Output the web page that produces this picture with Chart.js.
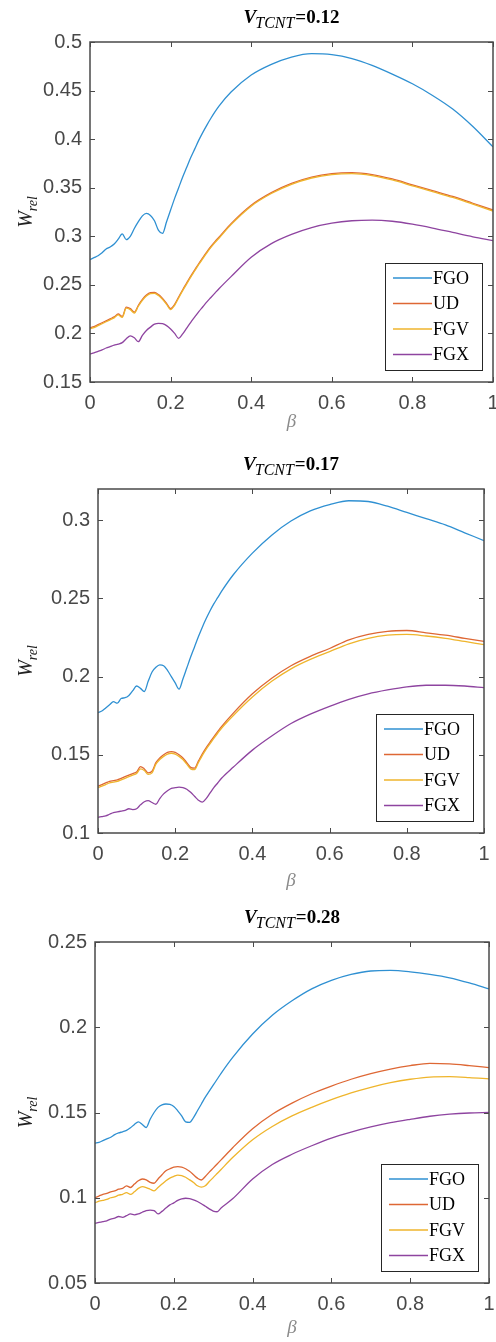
<!DOCTYPE html>
<html>
<head>
<meta charset="utf-8">
<script src="https://cdn.jsdelivr.net/npm/chart.js@4"></script>
<style>
body { margin: 0; background: #fff; width: 496px; height: 1342px; position: relative; overflow: hidden; }
.panel { position: absolute; left: 0; width: 496px; }
</style>
</head>
<body>
<div class="panel" style="top:0;height:440px"><canvas id="c12" width="496" height="440"></canvas></div>
<div class="panel" style="top:440px;height:455px"><canvas id="c17" width="496" height="455"></canvas></div>
<div class="panel" style="top:895px;height:447px"><canvas id="c28" width="496" height="447"></canvas></div>
<script>
var seriesNames = ["FGO", "UD", "FGV", "FGX"];
var lineColors = ["#2f90d2", "#de6734", "#efb52c", "#8e44a0"];

var beta = [0, 0.01, 0.02, 0.03, 0.04, 0.05, 0.06, 0.07, 0.08, 0.09,
            0.1, 0.11, 0.12, 0.13, 0.14, 0.15, 0.16, 0.17, 0.18, 0.19,
            0.2, 0.21, 0.22, 0.23, 0.24, 0.25, 0.26, 0.27, 0.28, 0.29,
            0.3, 0.31, 0.32,
            0.35, 0.4, 0.45, 0.5, 0.55, 0.6, 0.65, 0.7, 0.75, 0.8, 0.85, 0.9, 0.95, 1];
var xTicks = [0, 0.2, 0.4, 0.6, 0.8, 1];

// V_TCNT = 0.12
var fgo12 = [0.276, 0.278, 0.280, 0.283, 0.287, 0.289, 0.292, 0.297, 0.3025, 0.2965,
             0.300, 0.308, 0.315, 0.321, 0.3235, 0.3215, 0.316, 0.306, 0.303, 0.315,
             0.327, 0.339, 0.350, 0.361, 0.371, 0.381, 0.390, 0.399, 0.407, 0.4145,
             0.4215, 0.428, 0.434,
             0.4485, 0.466, 0.477, 0.4845, 0.488, 0.487, 0.483, 0.476, 0.467, 0.457, 0.445, 0.431, 0.413, 0.392];
var ud12 = [0.206, 0.207, 0.209, 0.211, 0.213, 0.215, 0.217, 0.220, 0.2175, 0.227,
            0.2255, 0.222, 0.229, 0.235, 0.2395, 0.242, 0.2423, 0.240, 0.236, 0.231,
            0.2255, 0.230, 0.2375, 0.245, 0.252, 0.259, 0.2655, 0.272, 0.278, 0.284,
            0.2895, 0.2945, 0.299,
            0.313, 0.332, 0.345, 0.3545, 0.361, 0.3645, 0.3655, 0.3635, 0.359, 0.353, 0.347, 0.341, 0.334, 0.327];
var fgv12 = [0.205, 0.206, 0.208, 0.210, 0.212, 0.214, 0.216, 0.219, 0.2165, 0.226,
             0.2245, 0.221, 0.228, 0.234, 0.2385, 0.241, 0.2413, 0.239, 0.235, 0.230,
             0.2245, 0.229, 0.2365, 0.244, 0.251, 0.258, 0.2645, 0.271, 0.277, 0.283,
             0.2885, 0.2935, 0.298,
             0.312, 0.331, 0.344, 0.3535, 0.360, 0.3635, 0.3645, 0.3625, 0.358, 0.352, 0.346, 0.340, 0.333, 0.326];
var fgx12 = [0.179, 0.180, 0.1815, 0.183, 0.185, 0.1865, 0.188, 0.189, 0.1905, 0.1945,
             0.1975, 0.1955, 0.1915, 0.198, 0.203, 0.2065, 0.2095, 0.2104, 0.210, 0.208,
             0.2045, 0.200, 0.195, 0.1995, 0.2055, 0.2115, 0.217, 0.2225, 0.2275, 0.2325,
             0.237, 0.2415, 0.246,
             0.2585, 0.2785, 0.2925, 0.302, 0.309, 0.3135, 0.316, 0.3167, 0.3155, 0.3125, 0.3085, 0.304, 0.2995, 0.2955];
var yTicks12 = [0.15, 0.2, 0.25, 0.3, 0.35, 0.4, 0.45, 0.5];

// V_TCNT = 0.17
var fgo17 = [0.177, 0.178, 0.180, 0.182, 0.184, 0.183, 0.186, 0.1865, 0.188, 0.191,
             0.194, 0.1925, 0.1905, 0.197, 0.203, 0.206, 0.2075, 0.207, 0.204, 0.200,
             0.196, 0.192, 0.1985, 0.2055, 0.2125, 0.219, 0.2255, 0.2315, 0.237, 0.242,
             0.2465, 0.2505, 0.2545,
             0.265, 0.279, 0.2905, 0.2995, 0.306, 0.310, 0.3125, 0.312, 0.309, 0.305, 0.301, 0.297, 0.292, 0.287];
var ud17 = [0.130, 0.131, 0.132, 0.133, 0.1335, 0.134, 0.135, 0.136, 0.137, 0.138,
            0.139, 0.1425, 0.141, 0.1385, 0.1395, 0.145, 0.148, 0.150, 0.1515, 0.152,
            0.1515, 0.150, 0.148, 0.145, 0.142, 0.1415, 0.146, 0.1505, 0.1545, 0.158,
            0.1615, 0.1648, 0.168,
            0.1765, 0.189, 0.199, 0.207, 0.213, 0.218, 0.2235, 0.227, 0.229, 0.2295, 0.228, 0.2265, 0.2245, 0.2225];
var fgv17 = [0.129, 0.130, 0.131, 0.132, 0.1325, 0.133, 0.134, 0.135, 0.136, 0.137,
             0.138, 0.141, 0.140, 0.1375, 0.1385, 0.144, 0.147, 0.149, 0.1505, 0.151,
             0.1505, 0.149, 0.147, 0.144, 0.141, 0.1405, 0.145, 0.1495, 0.1535, 0.157,
             0.1605, 0.1638, 0.167,
             0.175, 0.187, 0.197, 0.205, 0.211, 0.216, 0.221, 0.2245, 0.2265, 0.227, 0.226, 0.2245, 0.2225, 0.2205];
var fgx17 = [0.110, 0.1105, 0.111, 0.112, 0.113, 0.1135, 0.114, 0.1145, 0.1155, 0.115,
             0.1155, 0.118, 0.120, 0.1207, 0.1195, 0.1184, 0.122, 0.125, 0.127, 0.1285,
             0.129, 0.1293, 0.129, 0.128, 0.126, 0.1235, 0.121, 0.1197, 0.122, 0.1255,
             0.129, 0.132, 0.135,
             0.142, 0.153, 0.162, 0.170, 0.176, 0.181, 0.1855, 0.189, 0.1915, 0.1935, 0.1945, 0.1945, 0.194, 0.193];
var yTicks17 = [0.1, 0.15, 0.2, 0.25, 0.3];

// V_TCNT = 0.28
var fgo28 = [0.132, 0.1325, 0.1335, 0.1345, 0.1355, 0.137, 0.138, 0.1387, 0.1395, 0.141,
             0.143, 0.1445, 0.143, 0.1412, 0.146, 0.150, 0.153, 0.1545, 0.155, 0.1547,
             0.1535, 0.151, 0.148, 0.1445, 0.1442, 0.147, 0.151, 0.155, 0.159, 0.1625,
             0.166, 0.1695, 0.173,
             0.1825, 0.196, 0.207, 0.2155, 0.2225, 0.2275, 0.231, 0.233, 0.2333, 0.2325, 0.231, 0.229, 0.226, 0.2225];
var ud28 = [0.100, 0.101, 0.102, 0.1025, 0.1035, 0.104, 0.105, 0.1055, 0.107, 0.106,
            0.108, 0.110, 0.111, 0.1105, 0.109, 0.1085, 0.111, 0.1135, 0.1158, 0.117,
            0.118, 0.1182, 0.118, 0.117, 0.1155, 0.1135, 0.1115, 0.1104, 0.1125, 0.115,
            0.1174, 0.1198, 0.1222,
            0.1295, 0.1405, 0.149, 0.1555, 0.161, 0.1655, 0.1695, 0.1728, 0.1755, 0.1775, 0.1788, 0.1785, 0.1775, 0.1763];
var fgv28 = [0.097, 0.098, 0.0985, 0.099, 0.100, 0.1005, 0.1015, 0.102, 0.103, 0.102,
             0.1035, 0.1055, 0.1065, 0.106, 0.105, 0.104, 0.106, 0.108, 0.110, 0.1115,
             0.1125, 0.1133, 0.113, 0.112, 0.1105, 0.109, 0.107, 0.1062, 0.107, 0.1095,
             0.1118, 0.1142, 0.1166,
             0.1237, 0.134, 0.1418, 0.148, 0.153, 0.1575, 0.1615, 0.1648, 0.1675, 0.1695, 0.1708, 0.171, 0.1705, 0.1697];
var fgx28 = [0.085, 0.0855, 0.086, 0.0865, 0.0875, 0.088, 0.089, 0.0885, 0.0895, 0.0905,
             0.090, 0.0905, 0.0915, 0.0925, 0.0928, 0.0925, 0.0905, 0.092, 0.094, 0.0958,
             0.097, 0.0985, 0.0993, 0.0997, 0.0995, 0.0988, 0.0978, 0.0965, 0.095, 0.0935,
             0.0922, 0.0918, 0.094,
             0.0995, 0.111, 0.1195, 0.1255, 0.1305, 0.135, 0.1385, 0.1415, 0.144, 0.146, 0.1478, 0.149, 0.1497, 0.150];
var yTicks28 = [0.05, 0.1, 0.15, 0.2, 0.25];

var sansFont = '"Liberation Sans", Arial, sans-serif';
var serifFont = '"Liberation Serif", "Times New Roman", serif';

// frame, inward ticks, title, axis labels and legend (MATLAB look)
var decor = {
    id: "decor",
    afterDraw: function(chart, args, opts) {
        var ctx = chart.ctx;
        var a = chart.chartArea;
        var xs = chart.scales.x, ys = chart.scales.y;
        ctx.save();

        ctx.strokeStyle = "#4a4a4a";
        ctx.lineWidth = 1;
        ctx.beginPath();
        xs.ticks.forEach(function(t) {
            var px = Math.round(xs.getPixelForValue(t.value)) + 0.5;
            ctx.moveTo(px, a.bottom); ctx.lineTo(px, a.bottom - 5);
            ctx.moveTo(px, a.top); ctx.lineTo(px, a.top + 5);
        });
        ys.ticks.forEach(function(t) {
            var py = Math.round(ys.getPixelForValue(t.value)) + 0.5;
            ctx.moveTo(a.left, py); ctx.lineTo(a.left + 5, py);
            ctx.moveTo(a.right, py); ctx.lineTo(a.right - 5, py);
        });
        ctx.stroke();
        ctx.lineWidth = 1.5;
        ctx.strokeRect(a.left, a.top, a.right - a.left, a.bottom - a.top);

        // title  V_TCNT=...
        var cx = (a.left + a.right) / 2;
        var by = a.top - opts.titleGap;
        var f1 = "italic bold 19px " + serifFont;
        var f2 = "italic 16px " + serifFont;
        var f3 = "bold 19px " + serifFont;
        ctx.fillStyle = "#000";
        ctx.textAlign = "left";
        ctx.textBaseline = "alphabetic";
        ctx.font = f1; var w1 = ctx.measureText("V").width;
        ctx.font = f2; var w2 = ctx.measureText("TCNT").width;
        ctx.font = f3; var w3 = ctx.measureText("=" + opts.vtcnt).width;
        var x0 = cx - (w1 + w2 + w3) / 2;
        ctx.font = f1; ctx.fillText("V", x0, by);
        ctx.font = f2; ctx.fillText("TCNT", x0 + w1 - 1, by + 5);
        ctx.font = f3; ctx.fillText("=" + opts.vtcnt, x0 + w1 + w2, by);

        // y label W_rel
        ctx.save();
        ctx.translate(opts.yLabelX, (a.top + a.bottom) / 2);
        ctx.rotate(-Math.PI / 2);
        ctx.font = "italic 20px " + serifFont; var ww = ctx.measureText("W").width;
        ctx.font = "italic 14px " + serifFont; var wr = ctx.measureText("rel").width;
        var sx = -(ww + wr) / 2;
        ctx.fillStyle = "#222";
        ctx.font = "italic 20px " + serifFont; ctx.fillText("W", sx, 0);
        ctx.font = "italic 14px " + serifFont; ctx.fillText("rel", sx + ww, 5);
        ctx.restore();

        // x label beta
        ctx.fillStyle = "#8a8a8a";
        ctx.font = "italic 19px " + serifFont;
        ctx.textAlign = "center";
        ctx.textBaseline = "middle";
        ctx.fillText("\u03b2", cx, a.bottom + opts.betaGap);

        // legend
        var lw = 97, lh = 107;
        var lx = Math.round(a.right - 11 - lw), ly = Math.round(a.bottom - 12 - lh);
        ctx.fillStyle = "#fff";
        ctx.fillRect(lx, ly, lw, lh);
        ctx.strokeStyle = "#262626";
        ctx.lineWidth = 1;
        ctx.strokeRect(lx + 0.5, ly + 0.5, lw, lh);
        ctx.font = "18px " + serifFont;
        ctx.textAlign = "left";
        chart.data.datasets.forEach(function(ds, i) {
            var yy = ly + 15 + i * 25.5;
            ctx.strokeStyle = ds.borderColor;
            ctx.lineWidth = 1.5;
            ctx.beginPath();
            ctx.moveTo(lx + 8, yy); ctx.lineTo(lx + 47, yy);
            ctx.stroke();
            ctx.fillStyle = "#000";
            ctx.fillText(ds.label, lx + 48, yy + 1);
        });

        ctx.restore();
    }
};

function tickText(v) {
    return String(Math.round(v * 100) / 100);
}

function makePanel(id, vtcnt, series, yMin, yMax, yTicks, box) {
    var canvas = document.getElementById(id);
    var datasets = series.map(function(s, i) {
        return {
            label: seriesNames[i],
            data: beta.map(function(b, j) { return { x: b, y: s[j] }; }),
            borderColor: lineColors[i],
            borderWidth: 1.3,
            pointRadius: 0,
            fill: false,
            cubicInterpolationMode: "monotone",
            order: 4 - i
        };
    });
    new Chart(canvas, {
        type: "line",
        data: { datasets: datasets },
        options: {
            responsive: false,
            animation: false,
            layout: { padding: { top: box.top, right: 496 - box.right, left: 0, bottom: 0 } },
            plugins: {
                legend: { display: false },
                tooltip: { enabled: false },
                decor: { vtcnt: vtcnt, titleGap: 19, betaGap: box.betaGap, yLabelX: 32 }
            },
            scales: {
                x: {
                    type: "linear", min: 0, max: 1,
                    grid: { display: false, drawTicks: false }, border: { display: false },
                    afterBuildTicks: function(s) { s.ticks = xTicks.map(function(v) { return { value: v }; }); },
                    afterFit: function(s) { s.height = canvas.height - box.bottom; s.paddingLeft = 0; s.paddingRight = 0; },
                    ticks: { padding: 9, autoSkip: false, maxRotation: 0, color: "#484848",
                             font: { family: sansFont, size: 20 }, callback: tickText }
                },
                y: {
                    type: "linear", min: yMin, max: yMax,
                    grid: { display: false, drawTicks: false }, border: { display: false },
                    afterBuildTicks: function(s) { s.ticks = yTicks.map(function(v) { return { value: v }; }); },
                    afterFit: function(s) { s.width = box.left; s.paddingTop = 0; s.paddingBottom = 0; },
                    ticks: { padding: 8, autoSkip: false, color: "#484848",
                             font: { family: sansFont, size: 20 }, callback: tickText }
                }
            }
        },
        plugins: [decor]
    });
}

makePanel("c12", "0.12", [fgo12, ud12, fgv12, fgx12], 0.15, 0.5, yTicks12,
          { left: 90, right: 493, top: 42, bottom: 382, betaGap: 40 });
makePanel("c17", "0.17", [fgo17, ud17, fgv17, fgx17], 0.1, 0.32, yTicks17,
          { left: 98, right: 484, top: 49, bottom: 393, betaGap: 48 });
makePanel("c28", "0.28", [fgo28, ud28, fgv28, fgx28], 0.05, 0.25, yTicks28,
          { left: 95, right: 489, top: 47, bottom: 388, betaGap: 45 });
</script>
</body>
</html>
